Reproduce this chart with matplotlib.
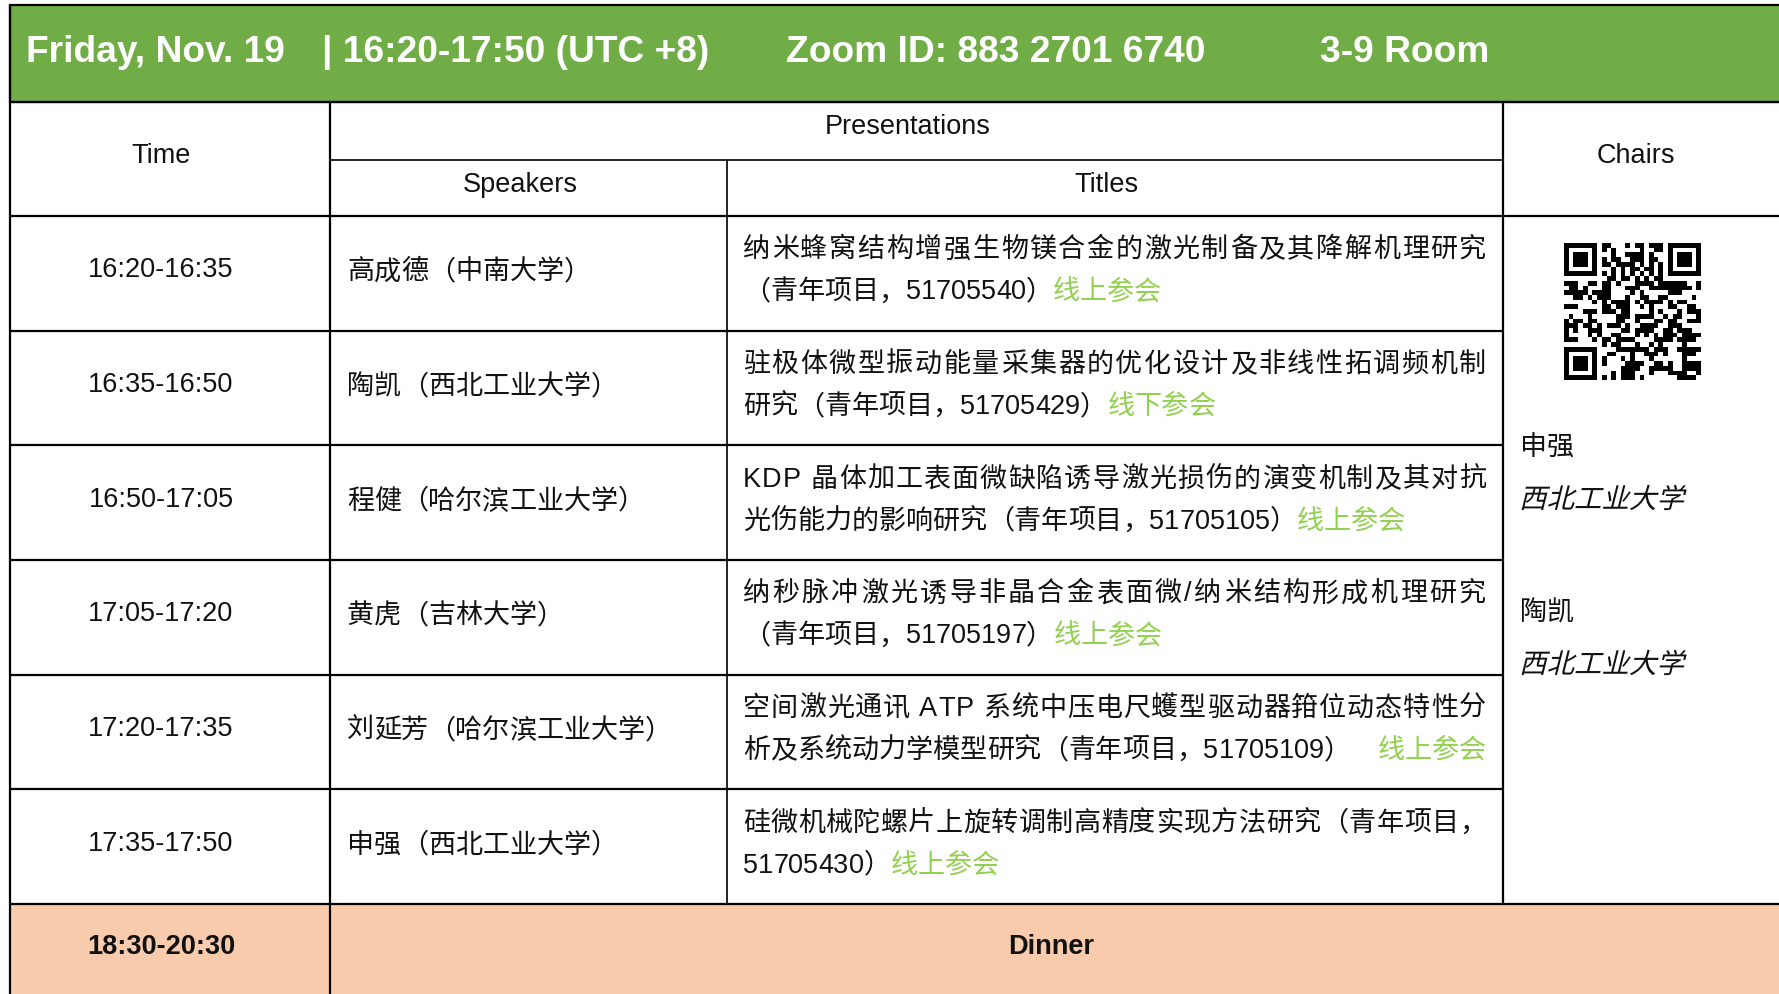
import hashlib
import numpy as np
import matplotlib
matplotlib.use("Agg")
import matplotlib.pyplot as plt
from matplotlib.font_manager import FontProperties
from matplotlib.textpath import TextPath
from matplotlib.patches import PathPatch, Rectangle
from matplotlib.transforms import Affine2D

# ---------------- data ----------------
header_items = ["Friday, Nov. 19", "| 16:20-17:50 (UTC +8)", "Zoom ID: 883 2701 6740", "3-9 Room"]
col_time = "Time"
col_pres = "Presentations"
col_speakers = "Speakers"
col_titles = "Titles"
col_chairs = "Chairs"

times = ["16:20-16:35", "16:35-16:50", "16:50-17:05", "17:05-17:20", "17:20-17:35", "17:35-17:50"]
speakers = ["高成德（中南大学）", "陶凯（西北工业大学）", "程健（哈尔滨工业大学）",
            "黄虎（吉林大学）", "刘延芳（哈尔滨工业大学）", "申强（西北工业大学）"]
title_line1 = ["纳米蜂窝结构增强生物镁合金的激光制备及其降解机理研究",
               "驻极体微型振动能量采集器的优化设计及非线性拓调频机制",
               "KDP 晶体加工表面微缺陷诱导激光损伤的演变机制及其对抗",
               "纳秒脉冲激光诱导非晶合金表面微/纳米结构形成机理研究",
               "空间激光通讯 ATP 系统中压电尺蠖型驱动器箝位动态特性分",
               "硅微机械陀螺片上旋转调制高精度实现方法研究（青年项目，"]
title_line2 = ["（青年项目，51705540）",
               "研究（青年项目，51705429）",
               "光伤能力的影响研究（青年项目，51705105）",
               "（青年项目，51705197）",
               "析及系统动力学模型研究（青年项目，51705109）",
               "51705430）"]
attend = ["线上参会", "线下参会", "线上参会", "线上参会", " 线上参会", "线上参会"]
chair_names = ["申强", "陶凯"]
chair_affils = ["西北工业大学", "西北工业大学"]
dinner_time = "18:30-20:30"
dinner_label = "Dinner"
qr_payload = "Zoom ID: 883 2701 6740 | 3-9 Room | Friday, Nov. 19"

# ---------------- style ----------------
GREEN = "#70AD47"
LIGHT_GREEN = "#92D050"
PEACH = "#F8CBAD"
TXT = "#111111"
LAT = ["Liberation Sans", "DejaVu Sans"]
MIX = ["Liberation Sans", "Noto Sans CJK SC", "DejaVu Sans"]

W, H = 1779, 994
DPI = 100
fig = plt.figure(figsize=(W / DPI, H / DPI), dpi=DPI)
ax = fig.add_axes([0, 0, 1, 1])
ax.set_xlim(0, W)
ax.set_ylim(H, 0)
ax.axis("off")
renderer = fig.canvas.get_renderer()

# layout (pixels)
X_L, X_SP, X_TI, X_CH = 10, 330, 727, 1503
Y_G0, Y_T0, Y_SUB, Y_H, Y_D = 5, 102, 160, 216, 904
n_rows = len(times)
row_h = (Y_D - Y_H) / n_rows

# fills
ax.add_patch(Rectangle((X_L, Y_G0), W + 10 - X_L, Y_T0 - Y_G0, facecolor=GREEN,
                       edgecolor="black", lw=1.6, zorder=1))
ax.add_patch(Rectangle((X_L, Y_D), W + 10 - X_L, H + 10 - Y_D, facecolor=PEACH,
                       edgecolor="none", zorder=1))

LW = 1.6
LW2 = 1.2
def hline(y, x0, x1, lw=LW):
    ax.plot([x0, x1], [y, y], color="black", lw=lw, solid_capstyle="butt", zorder=3)
def vline(x, y0, y1, lw=LW):
    ax.plot([x, x], [y0, y1], color="black", lw=lw, solid_capstyle="butt", zorder=3)

hline(Y_T0, X_L, W)
hline(Y_SUB, X_SP, X_CH, LW2)
hline(Y_H, X_L, W)
for i in range(1, n_rows):
    hline(Y_H + i * row_h, X_L, X_CH)
hline(Y_D, X_L, W)
vline(X_L, Y_G0, H)
vline(X_SP, Y_T0, H)
vline(X_TI, Y_SUB, Y_D, LW2)
vline(X_CH, Y_T0, Y_D)

# ---------------- text helpers ----------------
_cache = {}
def tw(s, prop):
    key = (s, prop.get_size_in_points(), prop.get_weight(), tuple(prop.get_family()))
    if key not in _cache:
        w, h, d = renderer.get_text_width_height_descent(s, prop, ismath=False)
        _cache[key] = w
    return _cache[key]

def adv(c, prop):
    # full-width (CJK) characters advance one em; others use measured advance
    if ord(c) >= 0x2E80:
        return prop.get_size_in_points() * DPI / 72.0
    return tw("x" + c + "x", prop) - tw("xx", prop)

def draw_runs(x, y, runs, prop, target_w=None):
    chars = [(c, col) for s, col in runs for c in s]
    widths = [adv(c, prop) for c, _ in chars]
    gap = 0.0
    if target_w is not None and len(chars) > 1:
        gap = (target_w - sum(widths)) / (len(chars) - 1)
    cx = x
    for (c, col), w in zip(chars, widths):
        if c != " ":
            ax.text(cx, y, c, color=col, fontproperties=prop, ha="left", va="baseline", zorder=4)
        cx += w + gap
    return cx

def italic_text(x, y, s, size_px, color=TXT):
    prop = FontProperties(family="Noto Sans CJK SC", weight="light")
    path = TextPath((0, 0), s, size=size_px, prop=prop)
    tr = Affine2D().skew_deg(14, 0).scale(1, -1).translate(x, y) + ax.transData
    ax.add_patch(PathPatch(path, transform=tr, facecolor=color, edgecolor="none", lw=0, zorder=4))

# ---------------- header ----------------
p_head = FontProperties(family=LAT, weight="bold", size=26.7)
head_x = [26, 322, 786, 1320]
for s, x in zip(header_items, head_x):
    ax.text(x, 62, s, fontproperties=p_head, color="white", ha="left", va="baseline", zorder=4)

p_col = FontProperties(family=LAT, size=19.5)
x_time_c = 161
ax.text(x_time_c, 163, col_time, fontproperties=p_col, color=TXT, ha="center", va="baseline")
ax.text(908, 134, col_pres, fontproperties=p_col, color=TXT, ha="center", va="baseline")
ax.text(520, 192, col_speakers, fontproperties=p_col, color=TXT, ha="center", va="baseline")
ax.text(1106, 192, col_titles, fontproperties=p_col, color=TXT, ha="center", va="baseline")
ax.text(1636, 163, col_chairs, fontproperties=p_col, color=TXT, ha="center", va="baseline")

# ---------------- rows ----------------
p_cjk = FontProperties(family=MIX, size=19.5, weight="light")
title_x0, title_x1 = 743, 1486
for i in range(n_rows):
    yc = Y_H + (i + 0.5) * row_h
    ax.text(x_time_c, yc + 4, times[i], fontproperties=p_col, color=TXT, ha="center", va="baseline")
    draw_runs(347, yc + 6, [(speakers[i], TXT)], p_cjk)
    draw_runs(title_x0, yc - 16, [(title_line1[i], TXT)], p_cjk, target_w=title_x1 - title_x0)
    end = draw_runs(title_x0, yc + 26, [(title_line2[i], TXT)], p_cjk)
    if attend[i].startswith(" "):
        tag = attend[i].strip()
        wtag = sum(adv(c, p_cjk) for c in tag)
        draw_runs(title_x1 - wtag, yc + 26, [(tag, LIGHT_GREEN)], p_cjk)
    else:
        draw_runs(end, yc + 26, [(attend[i], LIGHT_GREEN)], p_cjk)

# ---------------- chairs ----------------
# QR-like code built deterministically from the meeting info bytes
N = 29
digest = b"".join(hashlib.sha256((qr_payload + str(k)).encode()).digest() for k in range(4))
bits = np.unpackbits(np.frombuffer(digest, dtype=np.uint8))[: N * N].reshape(N, N)
qr = bits.astype(float)
def finder(r, c):
    qr[r:r + 7, c:c + 7] = 1
    qr[r + 1:r + 6, c + 1:c + 6] = 0
    qr[r + 2:r + 5, c + 2:c + 5] = 1
qr[0:8, 0:8] = 0
finder(0, 0)
qr[0:8, N - 8:N] = 0
finder(0, N - 7)
qr[N - 8:N, 0:8] = 0
finder(N - 7, 0)
qr[6, 8:N - 8] = (np.arange(8, N - 8) % 2 == 0)
qr[8:N - 8, 6] = (np.arange(8, N - 8) % 2 == 0)
ax.imshow(qr, cmap="gray_r", interpolation="nearest", extent=(1564, 1701, 380, 243),
          aspect="auto", zorder=2, vmin=0, vmax=1)
ax.set_xlim(0, W)
ax.set_ylim(H, 0)

p_name = FontProperties(family=MIX, size=19.5, weight="light")
name_y = [445, 610]
affil_y = [498, 663]
for nm, af, yn, ya in zip(chair_names, chair_affils, name_y, affil_y):
    draw_runs(1520, yn + 10, [(nm, TXT)], p_name)
    italic_text(1519, ya + 10, af, 27.5)

# ---------------- dinner ----------------
p_bold = FontProperties(family=LAT, weight="bold", size=19.5)
ax.text(x_time_c, 954, dinner_time, fontproperties=p_bold, color=TXT, ha="center", va="baseline")
ax.text(1051, 954, dinner_label, fontproperties=p_bold, color=TXT, ha="center", va="baseline")

fig.savefig("out.png", dpi=DPI, facecolor="white")
